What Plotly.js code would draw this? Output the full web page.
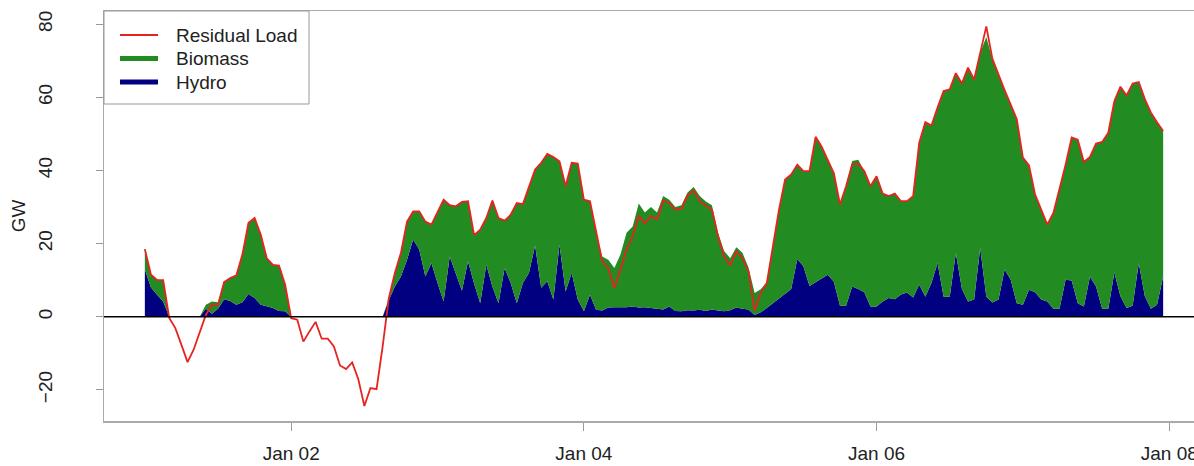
<!DOCTYPE html>
<html><head><meta charset="utf-8">
<script src="https://cdn.plot.ly/plotly-3.0.1.min.js"></script>
<style>html,body{margin:0;padding:0;overflow:hidden;background:#fff;} #chart{width:1212px;height:466px;}</style>
</head><body><div id="chart"></div>
<script>
// Hourly values, 2021-01-01 00:00 .. 2021-01-07 23:00 (GW)
const startYear = 2021, hoursCount = 168;
const residualLoad = [
 18.5, 11.5, 10.1, 10.0, -0.3, -3.1, -7.7, -12.4, -9.0, -4.5,
 0.5, 3.3, 3.3, 9.5, 10.6, 11.3, 17.0, 25.7, 27.0, 22.5,
 16.0, 14.2, 14.0, 8.8, -0.4, -0.8, -6.8, -4.0, -1.4, -6.0,
 -6.0, -8.1, -13.3, -14.3, -12.5, -17.0, -24.4, -19.5, -19.8, -8.1,
 5.0, 12.0, 17.5, 26.0, 28.8, 28.8, 26.0, 25.2, 28.5, 32.0,
 30.5, 30.2, 31.4, 31.6, 22.3, 23.8, 27.0, 31.8, 27.0, 26.3,
 27.9, 31.1, 30.8, 35.7, 40.3, 42.1, 44.5, 43.7, 42.5, 35.7,
 42.1, 41.9, 32.0, 31.6, 22.9, 15.2, 13.3, 7.9, 12.9, 18.4,
 22.0, 27.7, 25.5, 27.5, 26.6, 31.8, 31.1, 29.3, 29.5, 33.2,
 34.5, 31.6, 30.4, 29.3, 22.0, 16.5, 14.0, 17.9, 16.1, 12.4,
 1.7, 6.5, 9.2, 19.3, 29.3, 37.5, 38.9, 41.6, 39.8, 39.8,
 49.2, 46.5, 43.0, 39.2, 30.7, 35.7, 41.6, 41.9, 39.8, 35.7,
 38.4, 33.7, 33.0, 33.7, 31.6, 31.6, 33.0, 47.6, 53.2, 52.3,
 57.2, 61.7, 62.2, 66.6, 63.8, 68.1, 64.9, 72.2, 79.4, 70.5,
 66.0, 62.0, 58.0, 54.0, 43.5, 41.4, 33.4, 29.3, 25.2, 28.4,
 34.8, 41.6, 49.0, 48.4, 42.3, 43.7, 47.4, 47.8, 50.3, 59.0,
 62.9, 60.5, 63.8, 64.2, 59.5, 55.8, 53.2, 50.8
];
const hydro = [
 12.9, 8.0, 6.0, 4.2, 0, 0, 0, 0, 0, 0,
 2.2, 0.8, 2.2, 4.8, 4.3, 3.3, 4.0, 6.2, 5.1, 3.3,
 2.9, 2.4, 1.6, 1.5, 0, 0, 0, 0, 0, 0,
 0, 0, 0, 0, 0, 0, 0, 0, 0, 0,
 4.5, 8.3, 11.0, 15.6, 21.1, 18.4, 11.0, 14.7, 9.2, 4.2,
 16.5, 11.5, 7.1, 15.2, 9.0, 3.7, 14.2, 8.3, 3.7, 13.3,
 9.2, 3.7, 9.2, 12.0, 19.5, 7.9, 9.7, 4.7, 19.7, 6.9,
 12.0, 4.7, 1.5, 6.0, 1.9, 1.7, 2.5, 2.6, 2.5, 2.6,
 2.8, 2.5, 2.6, 2.4, 2.0, 2.0, 2.8, 1.6, 1.5, 1.8,
 1.7, 1.9, 1.6, 2.0, 1.7, 1.5, 1.8, 2.5, 2.2, 2.0,
 0.5, 1.2, 2.4, 3.7, 5.1, 6.5, 7.6, 15.8, 13.8, 8.4,
 9.5, 10.6, 11.5, 9.6, 3.0, 3.0, 8.3, 7.6, 6.7, 2.8,
 2.8, 4.2, 5.1, 4.8, 6.1, 6.6, 5.3, 8.8, 5.5, 9.2,
 14.7, 5.5, 5.5, 17.4, 7.6, 4.2, 4.7, 18.8, 5.5, 3.9,
 4.7, 12.9, 10.1, 3.7, 3.3, 7.4, 6.7, 4.7, 4.2, 2.2,
 2.2, 10.1, 9.9, 3.7, 2.8, 11.0, 8.3, 2.2, 2.2, 12.1,
 5.6, 2.4, 3.0, 14.7, 5.6, 2.2, 3.3, 11.0
];
const biomass = [
 5.6, 3.5, 4.1, 5.8, 0, 0, 0, 0, 0, 0,
 1.1, 3.4, 1.8, 4.7, 6.3, 8.0, 13.0, 19.5, 21.9, 19.2,
 13.1, 11.8, 12.4, 7.3, 0, 0, 0, 0, 0, 0,
 0, 0, 0, 0, 0, 0, 0, 0, 0, 0,
 0.5, 3.7, 6.5, 10.4, 7.7, 10.4, 15.0, 10.5, 19.3, 27.8,
 14.0, 18.7, 24.3, 16.4, 13.3, 20.1, 12.8, 23.5, 23.3, 13.0,
 18.7, 27.4, 21.6, 23.7, 20.8, 34.2, 34.8, 39.0, 22.8, 28.8,
 30.1, 37.2, 30.5, 25.6, 21.0, 14.8, 13.1, 10.7, 14.5, 20.4,
 21.9, 28.5, 25.9, 27.6, 26.5, 31.0, 29.2, 28.4, 29.0, 32.2,
 33.8, 31.1, 29.9, 28.5, 21.3, 16.5, 14.2, 16.5, 15.3, 11.5,
 6.0, 6.3, 7.1, 15.6, 24.2, 31.0, 31.3, 25.8, 26.0, 31.4,
 39.7, 35.9, 31.5, 29.6, 27.7, 32.7, 34.3, 35.3, 33.1, 32.9,
 35.6, 29.5, 27.9, 28.9, 25.5, 25.0, 27.7, 38.8, 47.7, 43.1,
 42.5, 56.2, 56.7, 49.2, 56.2, 63.9, 60.2, 53.4, 71.0, 66.6,
 61.3, 49.1, 47.9, 50.3, 40.2, 34.0, 26.7, 24.6, 21.0, 26.2,
 32.6, 31.5, 39.1, 44.7, 39.5, 32.7, 39.1, 45.6, 48.1, 46.9,
 57.3, 58.1, 60.8, 49.5, 53.9, 53.6, 49.9, 39.8
];
const seriesNames = ['Residual Load', 'Biomass', 'Hydro'];
const seriesColors = ['#e8231f', '#228B22', '#000080'];
const legendLineWidths = [2, 5, 5];
const tickDates = ['2021-01-02', '2021-01-04', '2021-01-06', '2021-01-08'];
const tickLabels = ['Jan 02', 'Jan 04', 'Jan 06', 'Jan 08'];
const yTicks = [-20, 0, 20, 40, 60, 80];

function pad(n){ return (n < 10 ? '0' : '') + n; }
const times = [];
for (let i = 0; i < hoursCount; i++) {
  const d = new Date(Date.UTC(startYear, 0, 1, i));
  times.push(d.getUTCFullYear() + '-' + pad(d.getUTCMonth()+1) + '-' + pad(d.getUTCDate()) + ' ' + pad(d.getUTCHours()) + ':00');
}

const font = {family: '"Liberation Sans", Arial, Helvetica, sans-serif', size: 19, color: '#222'};

const traces = [
  {x: times, y: hydro, name: seriesNames[2], stackgroup: 'gen', mode: 'lines',
   line: {width: 0}, fillcolor: seriesColors[2], hoverinfo: 'skip'},
  {x: times, y: biomass, name: seriesNames[1], stackgroup: 'gen', mode: 'lines',
   line: {width: 0}, fillcolor: seriesColors[1], hoverinfo: 'skip'},
  {x: times, y: residualLoad, name: seriesNames[0], mode: 'lines',
   line: {color: seriesColors[0], width: 1.8}, hoverinfo: 'skip'}
];

// Plot area in pixels: x 104..1204, y 11..421
const M = {l: 104, r: 8, t: 11, b: 45}, W = 1212, H = 466;
const pw = W - M.l - M.r, ph = H - M.t - M.b;
const px = v => (v - M.l) / pw;
const py = v => (H - M.b - v) / ph;

const shapes = [
  {type: 'line', xref: 'paper', yref: 'y', x0: 0, x1: 1, y0: 0, y1: 0,
   line: {color: '#000', width: 1.3}, layer: 'above'},
  {type: 'rect', xref: 'paper', yref: 'paper', x0: px(104), x1: px(309), y0: py(104), y1: py(11),
   line: {color: '#999', width: 1}, fillcolor: '#fff', layer: 'above'}
];
const annotations = [];
const itemY = [35, 58.5, 82];
seriesNames.forEach((n, i) => {
  shapes.push({type: 'line', xref: 'paper', yref: 'paper', x0: px(120), x1: px(158),
    y0: py(itemY[i]), y1: py(itemY[i]), line: {color: seriesColors[i], width: legendLineWidths[i]}, layer: 'above'});
  annotations.push({xref: 'paper', yref: 'paper', x: px(174), y: py(itemY[i]), xanchor: 'left', yanchor: 'middle',
    text: n, showarrow: false, font: font});
});

const layout = {
  width: W, height: H, margin: M,
  paper_bgcolor: '#fff', plot_bgcolor: '#fff',
  font: font, showlegend: false,
  xaxis: {type: 'date', range: ['2020-12-31 17:18', '2021-01-08 05:42'],
          tickmode: 'array', tickvals: tickDates, ticktext: tickLabels,
          ticks: 'outside', ticklen: 8, tickcolor: '#999', tickwidth: 1,
          showline: true, mirror: true, linecolor: '#aaa', linewidth: 1.5,
          showgrid: false, zeroline: false, tickfont: font, ticklabelstandoff: 7},
  yaxis: {range: [-28.5, 83.6], tickmode: 'array', tickvals: yTicks,
          ticks: 'outside', ticklen: 7, tickcolor: '#999', tickwidth: 1,
          tickangle: -90, showline: true, mirror: true, linecolor: '#aaa', linewidth: 1.5,
          showgrid: false, zeroline: false, tickfont: font, ticklabelstandoff: 36,
          title: {text: 'GW', font: font, standoff: 4}},
  shapes: shapes,
  annotations: annotations
};

Plotly.newPlot('chart', traces, layout, {displayModeBar: false, staticPlot: true});
</script>
</body></html>
